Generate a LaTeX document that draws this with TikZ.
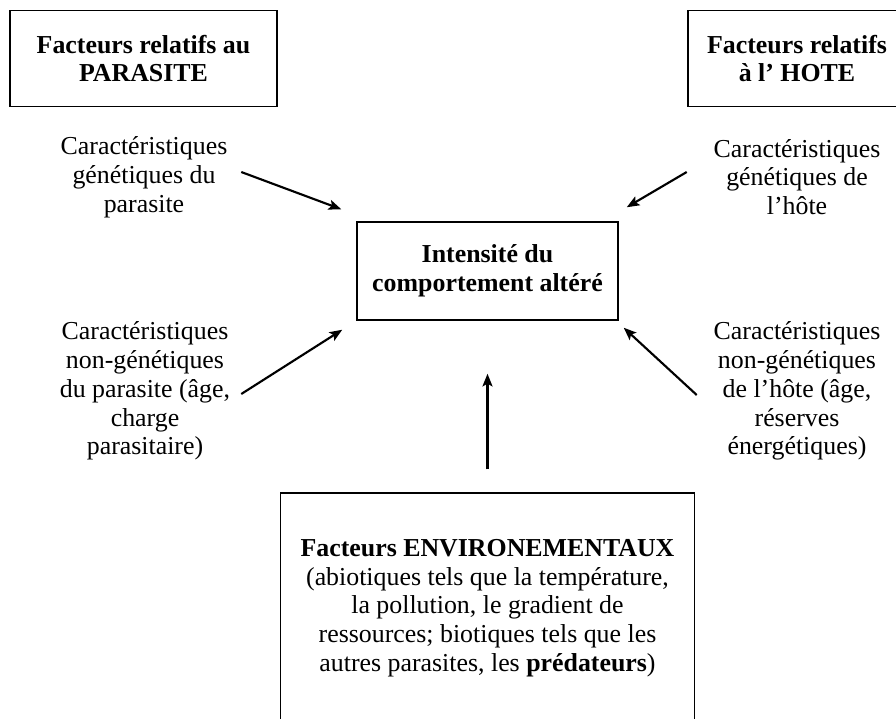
\documentclass[tikz,border=0pt]{standalone}
\usepackage{fontspec}
\setmainfont{Liberation Serif}
\usetikzlibrary{arrows.meta}

\begin{document}
\begin{tikzpicture}[x=0.75pt,y=-0.75pt,>={Stealth[length=9.5pt,width=7.5pt,inset=2pt]},auto]
	\tikzstyle{every node} = [font=\fontsize{19.4pt}{21.6pt}\selectfont, inner sep=0pt, align=center]
	\tikzstyle{boite} = [draw, line width=1.1pt]
	\tikzstyle{texte} = [text width=135pt, align=flush center]
	\tikzstyle{fleche} = [->, line width=1.6pt]
	\useasboundingbox (0,0) rectangle (896,718);
	% les facteurs
	\node[boite, minimum width=200.25pt, minimum height=72pt]	(parasite)	at (143.5,58.5)	{\bfseries Facteurs relatifs au\\\bfseries PARASITE};
	\node[boite, minimum width=163.5pt, minimum height=72pt]	(hote)		at (797,58.5)	{\bfseries Facteurs relatifs\\\bfseries à l’ HOTE};
	\node[boite, minimum width=195.75pt, minimum height=73.5pt]	(comp)		at (487.5,271)	{\bfseries Intensité du\\\bfseries comportement altéré};
	\node[boite, minimum width=310.5pt, minimum height=172.5pt]	(env)		at (487.5,608)
		{\bfseries Facteurs ENVIRONEMENTAUX\\(abiotiques tels que la température,\\la pollution, le gradient de\\ressources; biotiques tels que les\\autres parasites, les \textbf{prédateurs})};
	\node[texte]	(genpar)	at (144,177)	{Caractéristiques\\génétiques du\\parasite};
	\node[texte]	(nongenpar)	at (145,391)	{Caractéristiques\\non-génétiques\\du parasite (âge,\\charge\\parasitaire)};
	\node[texte]	(genhote)	at (797,177)	{Caractéristiques\\génétiques de\\l’hôte};
	\node[texte]	(nongenhote)	at (797,391)	{Caractéristiques\\non-génétiques\\de l’hôte (âge,\\réserves\\énergétiques)};
	% les fleches
	\draw[fleche] ([shift={(7,-5)}]genpar.east) -- ([shift={(-15,-12)}]comp.north west);
	\draw[fleche] ([shift={(6,3)}]nongenpar.east) -- ([shift={(-14,9)}]comp.south west);
	\draw[fleche] ([shift={(-20,-5)}]genhote.west) -- ([shift={(8,-14)}]comp.north east);
	\draw[fleche] ([shift={(-10,4)}]nongenhote.west) -- ([shift={(5,7)}]comp.south east);
	\draw[fleche] ([shift={(0,-23)}]env.north) -- ([shift={(0,53)}]comp.south);
\end{tikzpicture}
\end{document}
